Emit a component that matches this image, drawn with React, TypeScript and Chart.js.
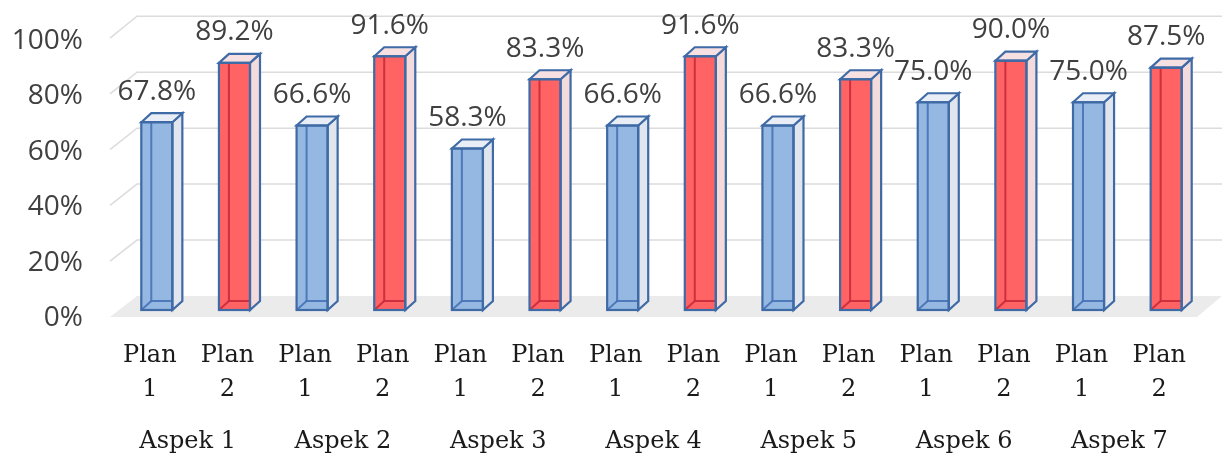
import React, { useEffect, useRef } from "react";
import { Chart, registerables } from "chart.js";

Chart.register(...registerables);

const aspects = ["Aspek 1", "Aspek 2", "Aspek 3", "Aspek 4", "Aspek 5", "Aspek 6", "Aspek 7"];
const planLabels = [["Plan", "1"], ["Plan", "2"]];
const plan1 = [67.8, 66.6, 58.3, 66.6, 66.6, 75.0, 75.0];
const plan2 = [89.2, 91.6, 83.3, 91.6, 83.3, 90.0, 87.5];
const yTicks = [0, 20, 40, 60, 80, 100];

const BLUE_FACE = "#95B8E3";
const RED_FACE = "#FF6363";
const OUTLINE = "#3E6AA6";
const DX = 10;
const DY = -9;

export default function App() {
  const ref = useRef<HTMLCanvasElement>(null);

  useEffect(() => {
    if (!ref.current) return;
    const labels: string[][] = [];
    const values: number[] = [];
    const kinds: number[] = [];
    aspects.forEach((_, i) => {
      labels.push(planLabels[0]);
      values.push(plan1[i]);
      kinds.push(0);
      labels.push(planLabels[1]);
      values.push(plan2[i]);
      kinds.push(1);
    });

    const threeD = {
      id: "threeD",
      beforeDatasetsDraw(chart: any) {
        const { ctx, chartArea } = chart;
        const y = chart.scales.y;
        const y0 = y.getPixelForValue(0);
        const L = chartArea.left;
        const R = chartArea.right;
        const fx = L - 8;
        const bx = L + 19;
        const fxr = R - 8;
        const bxr = R + 17;
        const yf = (v: number) => y0 + 7 - (y0 - y.getPixelForValue(v)) * 1.007;
        const yb = (v: number) => y0 - 14 - (y0 - y.getPixelForValue(v)) * 1.01;
        ctx.save();
        ctx.fillStyle = "#EBEBEB";
        ctx.beginPath();
        ctx.moveTo(fx, yf(0));
        ctx.lineTo(fxr, yf(0));
        ctx.lineTo(bxr, yb(0));
        ctx.lineTo(bx, yb(0));
        ctx.closePath();
        ctx.fill();
        ctx.strokeStyle = "#DCDCDC";
        ctx.lineWidth = 1.5;
        yTicks.forEach((v) => {
          if (v === 0) return;
          ctx.beginPath();
          ctx.moveTo(fx, yf(v));
          ctx.lineTo(bx, yb(v));
          ctx.lineTo(bxr, yb(v));
          ctx.stroke();
        });
        ctx.restore();
      },
      afterDatasetsDraw(chart: any) {
        const { ctx } = chart;
        const meta = chart.getDatasetMeta(0);
        ctx.save();
        meta.data.forEach((bar: any, i: number) => {
          const { x, y, base, width } = bar.getProps(["x", "y", "base", "width"], true);
          const l = x - width / 2;
          const r = x + width / 2;
          const red = kinds[i] === 1;
          ctx.lineWidth = 2;
          ctx.strokeStyle = red ? "rgba(195,35,55,0.8)" : "rgba(60,105,175,0.8)";
          ctx.beginPath();
          ctx.moveTo(l + DX, y + DY);
          ctx.lineTo(l + DX, base + DY);
          ctx.lineTo(r + DX, base + DY);
          ctx.stroke();
          ctx.beginPath();
          ctx.moveTo(l, base);
          ctx.lineTo(l + DX, base + DY);
          ctx.stroke();
          ctx.fillStyle = red ? "#F3DADB" : "#E1E6EE";
          ctx.strokeStyle = OUTLINE;
          ctx.lineWidth = 2.2;
          ctx.beginPath();
          ctx.moveTo(r, y);
          ctx.lineTo(r + DX, y + DY);
          ctx.lineTo(r + DX, base + DY);
          ctx.lineTo(r, base);
          ctx.closePath();
          ctx.fill();
          ctx.stroke();
          ctx.fillStyle = red ? "#F6E0E2" : "#E9EEF6";
          ctx.beginPath();
          ctx.moveTo(l, y);
          ctx.lineTo(l + DX, y + DY);
          ctx.lineTo(r + DX, y + DY);
          ctx.lineTo(r, y);
          ctx.closePath();
          ctx.fill();
          ctx.stroke();
          ctx.strokeRect(l, y, width, base - y);
          ctx.fillStyle = "#404040";
          ctx.font = "28px 'Open Sans'";
          ctx.textAlign = "center";
          ctx.textBaseline = "alphabetic";
          ctx.fillText(values[i].toFixed(1) + "%", x, y - 22.5);
        });
        ctx.restore();
      },
    };

    const chart = new Chart(ref.current, {
      type: "bar",
      data: {
        labels,
        datasets: [
          {
            data: values,
            backgroundColor: kinds.map((k) => (k === 1 ? RED_FACE : BLUE_FACE)),
            borderWidth: 0,
            barPercentage: 0.4,
            categoryPercentage: 1,
          },
        ],
      },
      options: {
        responsive: false,
        animation: false,
        layout: { padding: { top: 33, right: 18, left: 0, bottom: 0 } },
        plugins: {
          legend: { display: false },
          tooltip: { enabled: false },
        },
        scales: {
          y: {
            min: 0,
            max: 100,
            afterFit: (s: any) => {
              s.width = 118;
              s.paddingTop = 0;
              s.paddingBottom = 0;
            },
            grid: { display: false, drawTicks: false, tickLength: 0 },
            border: { display: false },
            ticks: {
              stepSize: 20,
              padding: 35,
              labelOffset: 8,
              color: "#404040",
              font: { family: "'Open Sans'", size: 28 },
              callback: (v: any) => v + "%",
            },
          },
          x: {
            weight: 0,
            afterFit: (s: any) => {
              s.height = 94;
              s.paddingLeft = 0;
              s.paddingRight = 0;
            },
            grid: { display: false, drawTicks: false, tickLength: 0 },
            border: { display: false },
            ticks: {
              padding: 29,
              labelOffset: -7,
              maxRotation: 0,
              autoSkip: false,
              color: "#1A1A1A",
              font: { family: "'DejaVu Serif'", size: 24, lineHeight: 1.42 },
            },
          },
          x2: {
            type: "category",
            labels: aspects,
            position: "bottom",
            weight: 1,
            offset: true,
            afterFit: (s: any) => {
              s.height = 55;
              s.paddingLeft = 0;
              s.paddingRight = 0;
            },
            grid: { display: false, drawTicks: false, tickLength: 0 },
            border: { display: false },
            ticks: {
              padding: 21,
              labelOffset: -8,
              maxRotation: 0,
              autoSkip: false,
              color: "#1A1A1A",
              font: { family: "'DejaVu Serif'", size: 24, lineHeight: 1.42 },
            },
          },
        },
      },
      plugins: [threeD],
    } as any);

    return () => chart.destroy();
  }, []);

  return (
    <div style={{ position: "absolute", left: 0, top: 0, width: 1223, height: 459, background: "#fff" }}>
      <canvas ref={ref} width={1223} height={459} style={{ display: "block" }} />
    </div>
  );
}
